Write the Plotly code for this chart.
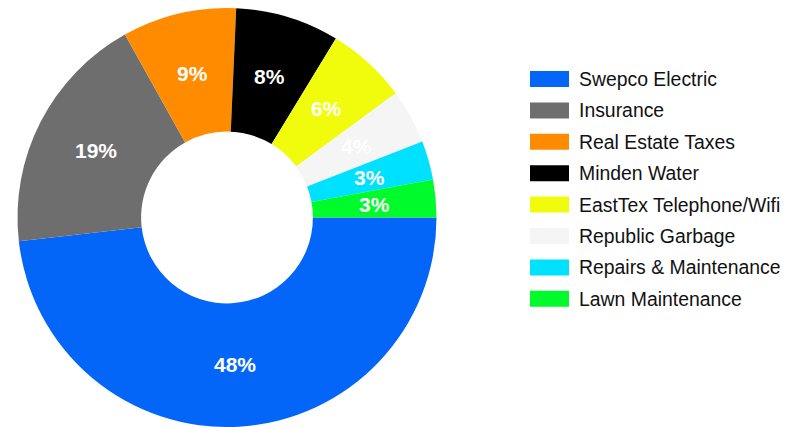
import math
import plotly.graph_objects as go

categories = ["Swepco Electric", "Insurance", "Real Estate Taxes", "Minden Water",
              "EastTex Telephone/Wifi", "Republic Garbage", "Repairs & Maintenance",
              "Lawn Maintenance"]
values = [48.2, 18.7, 8.8, 8.0, 6.2, 4.2, 3.0, 2.9]
colors = ["#0466F9", "#6E6E6E", "#FF8C00", "#000000", "#F0FC0C", "#F5F5F5",
          "#00E1FF", "#00FB2C"]

W, H = 807, 427
HOLE = 0.41
dom_x = [17 / W, 437 / W]
dom_y = [0, 1 - 8 / H]

fig = go.Figure()
fig.add_trace(go.Pie(
    labels=categories, values=values, sort=False, direction="clockwise",
    rotation=90, hole=HOLE,
    marker=dict(colors=colors, line=dict(width=0)),
    textinfo="none",
    domain=dict(x=dom_x, y=dom_y),
    showlegend=False, hoverinfo="label+percent",
))

# geometry of the pie domain (pixels) for placing the percent labels at mid-ring
cx = (dom_x[0] + dom_x[1]) / 2 * W
cy_up = (dom_y[0] + dom_y[1]) / 2 * H
R = min((dom_x[1] - dom_x[0]) * W, (dom_y[1] - dom_y[0]) * H) / 2
rm = R * (1 + HOLE) / 2
total = sum(values)

shapes, annots = [], []
cum = 0.0
for v in values:
    mid = (cum + v / 2) / total
    cum += v
    ang = math.radians(mid * 360)  # clockwise from 3 o'clock
    px = cx + rm * math.cos(ang)
    py = cy_up - rm * math.sin(ang)
    annots.append(dict(text=f"{round(v / total * 100)}%", xref="paper", yref="paper",
                       x=px / W, y=py / H, xanchor="center", yanchor="middle",
                       showarrow=False,
                       font=dict(family="Liberation Sans, Arial, sans-serif", size=21,
                                 color="white", weight="bold")))

# custom legend built from the category list
for i, (lab, col) in enumerate(zip(categories, colors)):
    yc = 79 + 31.4 * i
    shapes.append(dict(type="rect", xref="paper", yref="paper",
                       x0=530 / W, x1=569 / W, y0=1 - (yc + 8) / H, y1=1 - (yc - 8) / H,
                       fillcolor=col, line=dict(width=0)))
    annots.append(dict(text=lab, xref="paper", yref="paper", x=577 / W, y=1 - yc / H,
                       xanchor="left", yanchor="middle", showarrow=False,
                       font=dict(family="Liberation Sans, Arial, sans-serif", size=19.4,
                                 color="#111111")))

fig.update_layout(width=W, height=H, margin=dict(l=0, r=0, t=0, b=0),
                  paper_bgcolor="white", plot_bgcolor="white",
                  shapes=shapes, annotations=annots)
fig.write_html("out.html")
